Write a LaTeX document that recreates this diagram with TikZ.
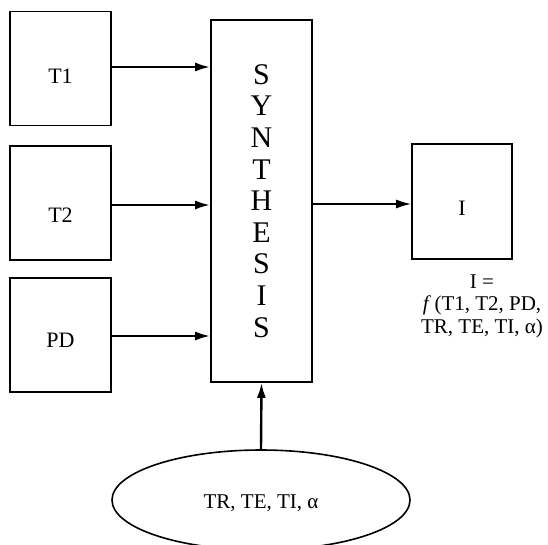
\documentclass[tikz,border=0pt]{standalone}
\usepackage{fontspec}
\setmainfont{Liberation Serif}
\usetikzlibrary{arrows.meta,shapes.geometric}
\begin{document}
\begin{tikzpicture}[x=1pt,y=-1pt,
  box/.style={draw,line width=1.6pt,minimum width=101pt,minimum height=114pt,inner sep=0pt,font=\fontsize{22}{24}\selectfont,text depth=0pt},
  conn/.style={line width=2.4pt,-{Latex[length=15pt,width=9pt]}},
  thin conn/.style={line width=1.7pt,-{Latex[length=15pt,width=9pt]}}]
\clip (0,0) rectangle (548,544);
\node[box,text height=29pt] (t1) at (60.5,68.5) {T1};
\node[box,text height=38pt] (t2) at (60.5,203) {T2};
\node[box,text height=24pt] (pd) at (60.5,335) {PD};
\node[draw,line width=1.6pt,minimum width=101pt,minimum height=362pt,inner sep=0pt,align=center,font=\fontsize{30}{31.6}\selectfont] (syn) at (261.5,201) {S\\Y\\N\\T\\H\\E\\S\\I\\S};
\node[box,minimum width=100pt,minimum height=115pt,text height=28pt] (out) at (462,201.5) {I};
\node[align=center,anchor=base,font=\fontsize{21}{22.5}\selectfont] (eq) at (482,333) {I =~\\\textit{f}\,(T1, T2, PD,\\TR, TE, TI, α)};
\node[draw,ellipse,line width=1.6pt,minimum width=298pt,minimum height=100pt,inner sep=0pt,text height=16pt,text depth=0pt,font=\fontsize{21}{24}\selectfont] (par) at (261,500) {TR, TE, TI, α};
\draw[conn] (t1.east |- 0,67) -- (syn.west |- 0,67);
\draw[conn] (t2.east |- 0,205) -- (syn.west |- 0,205);
\draw[conn] (pd.east |- 0,336) -- (syn.west |- 0,336);
\draw[thin conn] (syn.east |- 0,204) -- (out.west |- 0,204);
\draw[conn] (par.north) -- (syn.south);
\end{tikzpicture}
\end{document}
